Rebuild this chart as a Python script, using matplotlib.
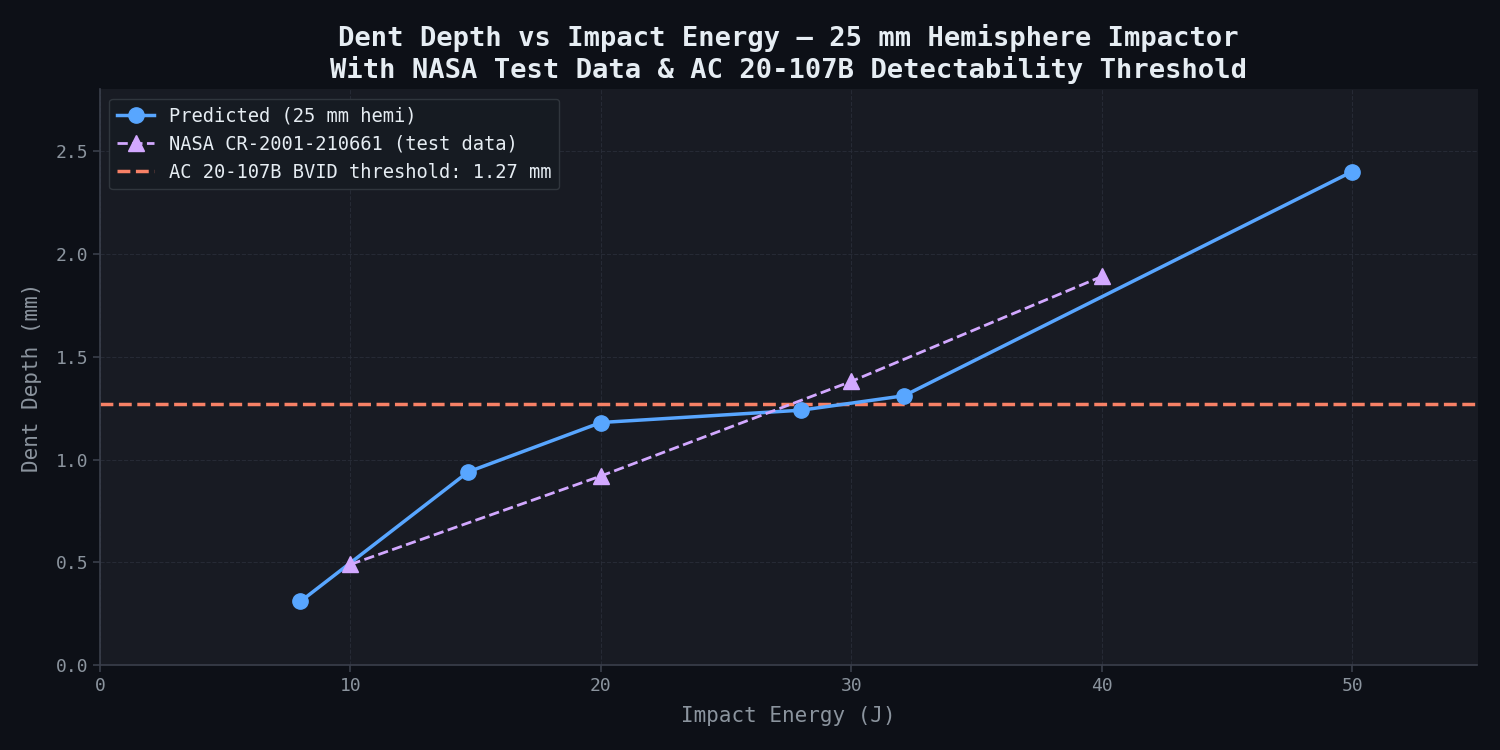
import matplotlib
matplotlib.use('Agg')
import matplotlib.pyplot as plt

# Predicted dent depth (25 mm hemisphere impactor)
pred_energy = [8.0, 14.7, 20.0, 28.0, 32.1, 50.0]
pred_depth = [0.31, 0.94, 1.18, 1.24, 1.31, 2.40]

# NASA CR-2001-210661 test data
nasa_energy = [10, 20, 30, 40]
nasa_depth = [0.49, 0.92, 1.38, 1.89]

bvid_threshold = 1.27

plt.rcParams['font.family'] = ['DejaVu Sans Mono', 'DejaVu Sans']

fig, ax = plt.subplots(figsize=(15, 7.5), dpi=100)
fig.patch.set_facecolor('#0d1017')
ax.set_facecolor('#181b23')

ax.plot(pred_energy, pred_depth, color='#58a6ff', linewidth=2.5, marker='o',
        markersize=11, label='Predicted (25 mm hemi)', zorder=3)
ax.plot(nasa_energy, nasa_depth, color='#d2a8ff', linewidth=2, linestyle='--',
        marker='^', markersize=11, label='NASA CR-2001-210661 (test data)', zorder=3)
ax.axhline(bvid_threshold, color='#f78166', linewidth=2.5, linestyle='--',
           label=f'AC 20-107B BVID threshold: {bvid_threshold} mm', zorder=2)

ax.set_xlim(0, 55)
ax.set_ylim(0, 2.8)
ax.set_xticks([0, 10, 20, 30, 40, 50])
ax.set_yticks([0.0, 0.5, 1.0, 1.5, 2.0, 2.5])

ax.grid(True, color='#2a2f3a', linestyle='--', linewidth=0.8, alpha=0.8)
ax.set_axisbelow(True)

for side in ['top', 'right']:
    ax.spines[side].set_visible(False)
for side in ['left', 'bottom']:
    ax.spines[side].set_color('#3a3f4b')
    ax.spines[side].set_linewidth(1.2)

ax.tick_params(colors='#8b949e', labelsize=13, length=5, width=1.2)
ax.tick_params(axis='both', color='#3a3f4b')

ax.set_xlabel('Impact Energy (J)', color='#8b949e', fontsize=15, labelpad=8)
ax.set_ylabel('Dent Depth (mm)', color='#8b949e', fontsize=15, labelpad=10)
ax.set_title('Dent Depth vs Impact Energy — 25 mm Hemisphere Impactor\n'
             'With NASA Test Data & AC 20-107B Detectability Threshold',
             color='#e6edf3', fontsize=19.5, fontweight='bold', pad=8)

leg = ax.legend(loc='upper left', fontsize=13.5, facecolor='#161b22',
                edgecolor='#30363d', labelcolor='#e6edf3', framealpha=1)

plt.subplots_adjust(left=0.0667, right=0.985, top=0.881, bottom=0.113)
plt.savefig('out.png', dpi=100, facecolor=fig.get_facecolor())
